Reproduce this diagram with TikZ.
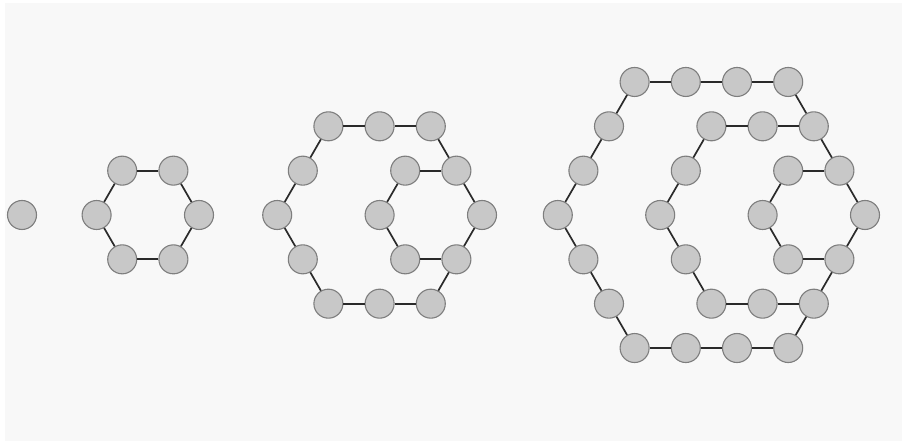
\documentclass[tikz,border=0pt]{standalone}
\usetikzlibrary{calc}
\definecolor{bgcol}{HTML}{F8F8F8}
\definecolor{dotfill}{HTML}{C8C8C8}
\definecolor{dotedge}{HTML}{7E7E7E}
\definecolor{linkcol}{HTML}{2A2A2A}
\tikzset{
  dot/.style={circle, draw=dotedge, fill=dotfill, line width=1.1pt, minimum size=29pt, inner sep=0pt},
  link/.style={draw=linkcol, line width=1.7pt}
}
\def\hkU{51.2}
\def\hkY{229}
% #1 figure, #2 side k, #3 index j, #4 x of right vertex
\newcommand\hexnode[4]{%
  \pgfmathtruncatemacro\hkI{floor(#3/#2)}%
  \pgfmathtruncatemacro\hkT{#3-\hkI*#2}%
  \pgfmathsetmacro\hkX{#4-#2*\hkU+\hkU*((#2-\hkT)*cos(60*\hkI)+\hkT*cos(60*(\hkI+1)))}%
  \pgfmathsetmacro\hkYY{\hkY+\hkU*((#2-\hkT)*sin(60*\hkI)+\hkT*sin(60*(\hkI+1)))}%
  \node[dot] (p#1-#2-#3) at (\hkX pt,\hkYY pt) {};%
}
\begin{document}
\begin{tikzpicture}[x=1pt,y=1pt]
\useasboundingbox (0,0) rectangle (905,444);
\fill[white] (0,0) rectangle (905,444);
\fill[bgcol] (5,3) rectangle (902,441);
% single dot
\node[dot] (p0) at (22,\hkY) {};
% figures
\foreach \f/\R/\m in {1/199/1, 2/482/2, 3/865/3} {
  % outer hexagon
  \pgfmathtruncatemacro\hkN{6*\m-1}
  \foreach \j in {0,...,\hkN} {
    \hexnode{\f}{\m}{\j}{\R}
  }
  \foreach \j in {0,...,\hkN} {
    \pgfmathtruncatemacro\hkNJ{mod(\j+1,6*\m)}
    \draw[link] (p\f-\m-\j) -- (p\f-\m-\hkNJ);
  }
  % inner hexagons sharing the right part
  \ifnum\m>1
    \pgfmathtruncatemacro\hkKM{\m-1}
    \foreach \k in {1,...,\hkKM} {
      \pgfmathtruncatemacro\hkA{\k+1}
      \pgfmathtruncatemacro\hkB{5*\k-1}
      \foreach \j in {\hkA,...,\hkB} {
        \hexnode{\f}{\k}{\j}{\R}
      }
      \pgfmathtruncatemacro\hkS{\k}
      \pgfmathtruncatemacro\hkE{6*\m-\k}
      \draw[link] (p\f-\m-\hkS) -- (p\f-\k-\hkA);
      \foreach \j in {\hkA,...,\hkB} {
        \ifnum\j<\hkB
          \pgfmathtruncatemacro\hkNJ{\j+1}
          \draw[link] (p\f-\k-\j) -- (p\f-\k-\hkNJ);
        \fi
      }
      \draw[link] (p\f-\k-\hkB) -- (p\f-\m-\hkE);
    }
  \fi
}
\end{tikzpicture}
\end{document}
